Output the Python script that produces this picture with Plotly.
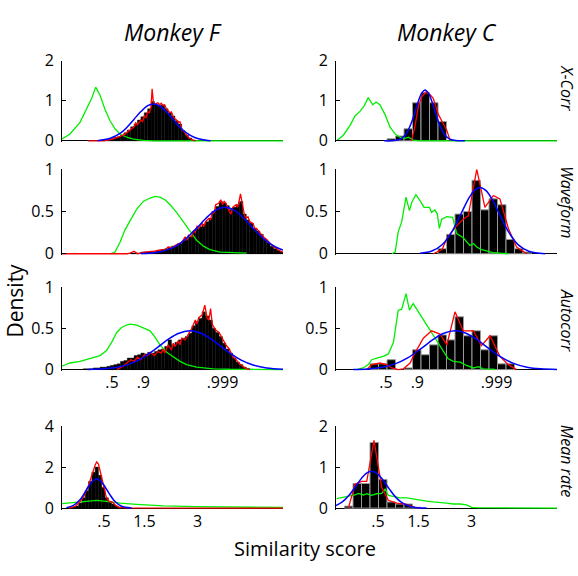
import numpy as np
import plotly.graph_objects as go

# ---------------- axis / tick data ----------------
CORR_RANGE = [-0.92, 5.58]            # Fisher-z (arctanh r) scale
corr_tick_r = [0.5, 0.9, 0.999]
corr_tick_labels = [".5", ".9", ".999"]
RATE_RANGE = [0, 10]
rate_tick_pos = [1.9, 3.73, 6.13]
rate_tick_labels = [".5", "1.5", "3"]

col_titles = ["Monkey F", "Monkey C"]
row_labels = ["X-Corr", "Waveform", "Autocorr", "Mean rate"]
ymax_left = [2, 1, 1, 4]
ymax_right = [2, 1, 1, 2]
yticks_left = [[0, 1, 2], [0, 0.5, 1], [0, 0.5, 1], [0, 2, 4]]
yticks_right = [[0, 1, 2], [0, 0.5, 1], [0, 0.5, 1], [0, 1, 2]]

# ---------------- X-Corr, Monkey F ----------------
xcorrF_hist_start, xcorrF_hist_w = 0.30, 0.1
xcorrF_hist = [0.01, 0.03, 0.05, 0.08, 0.10, 0.14, 0.20, 0.27, 0.35, 0.42, 0.52, 0.60, 0.70, 0.80,
               0.98, 0.90, 0.88, 0.90, 0.80, 0.70, 0.62, 0.50, 0.42, 0.25, 0.14, 0.07, 0.02]
xcorrF_red_x = [-0.15, 0.3, 0.5, 0.7, 0.9, 1.0, 1.1, 1.2, 1.25, 1.3, 1.4, 1.45, 1.5, 1.55, 1.6, 1.65, 1.7,
                1.73, 1.77, 1.82, 1.9, 1.95, 2.0, 2.05, 2.1, 2.15, 2.2, 2.25, 2.3, 2.35, 2.4, 2.45, 2.5,
                2.55, 2.6, 2.7, 2.8, 2.9, 3.0]
xcorrF_red_y = [0, 0.0, 0.03, 0.08, 0.15, 0.22, 0.30, 0.35, 0.45, 0.40, 0.52, 0.48, 0.62, 0.58, 0.72, 0.70,
                0.85, 1.30, 0.95, 0.92, 0.95, 0.90, 0.94, 0.88, 0.90, 0.80, 0.75, 0.70, 0.72, 0.60, 0.55,
                0.52, 0.46, 0.48, 0.30, 0.20, 0.08, 0.03, 0.0]
xcorrF_blue_x = [0.13, 0.2, 0.5, 0.8, 1.0, 1.2, 1.4, 1.6, 1.77, 1.95, 2.15, 2.35, 2.55, 2.75, 3.0, 3.3, 3.45]
xcorrF_blue_y = [0.0, 0.016, 0.064, 0.19, 0.345, 0.54, 0.73, 0.88, 0.92, 0.87, 0.725, 0.53, 0.34, 0.19,
                 0.075, 0.02, 0.0]
xcorrF_green_x = [-0.93, -0.685, -0.39, -0.194, -0.047, 0.07, 0.198, 0.345, 0.492, 0.639, 0.786, 0.982,
                  1.178, 1.472, 1.77, 5.58]
xcorrF_green_y = [0.04, 0.17, 0.46, 0.78, 1.06, 1.34, 1.14, 0.78, 0.50, 0.30, 0.17, 0.09, 0.04, 0.01, 0.0, 0.0]

# ---------------- X-Corr, Monkey C ----------------
binsC_start, binsC_w = -0.92, 0.25
xcorrC_hist = [0, 0, 0, 0, 0, 0, 0.05, 0.12, 0.30, 0.95, 1.20, 0.95, 0.48, 0, 0, 0, 0, 0, 0, 0, 0, 0, 0, 0, 0, 0]
xcorrC_red_x = [1.3, 1.4, 1.5, 1.6, 1.73, 1.85, 1.94, 2.09, 2.22, 2.34, 2.44]
xcorrC_red_y = [0, 0.35, 0.85, 1.10, 1.22, 1.15, 1.06, 0.66, 0.45, 0.26, 0]
xcorrC_blue_x = [0.5, 0.8, 1.0, 1.15, 1.3, 1.4, 1.5, 1.6, 1.7, 1.8, 1.9, 2.0, 2.1, 2.25, 2.4, 2.6, 2.87]
xcorrC_blue_y = [0, 0.007, 0.056, 0.184, 0.458, 0.715, 0.984, 1.19, 1.27, 1.19, 0.984, 0.715, 0.458, 0.184,
                 0.056, 0.007, 0]
xcorrC_green_x = [-0.90, -0.705, -0.51, -0.36, -0.21, -0.10, 0.03, 0.16, 0.26, 0.37, 0.52, 0.67, 0.82, 0.96,
                  1.11, 1.21, 1.35, 1.55, 5.58]
xcorrC_green_y = [0, 0.14, 0.38, 0.62, 0.74, 0.86, 1.08, 0.90, 0.97, 0.90, 0.66, 0.34, 0.17, 0.09, 0.06,
                  0.09, 0.02, 0, 0]

# ---------------- Waveform, Monkey F ----------------
waveF_hist_start, waveF_hist_w = 1.10, 0.1
waveF_hist = [0.01, 0.01, 0.01, 0.02, 0.02, 0.02, 0.03, 0.03, 0.04, 0.05, 0.06, 0.08, 0.09, 0.10, 0.12,
              0.15, 0.17, 0.20, 0.26, 0.30, 0.32, 0.35, 0.38, 0.42, 0.50, 0.56, 0.62, 0.60, 0.57, 0.52,
              0.55, 0.58, 0.62, 0.47, 0.40, 0.36, 0.30, 0.27, 0.23, 0.17, 0.13, 0.09, 0.06, 0.04, 0.02]
waveF_red_x = [-0.92, 1.0, 1.1, 1.2, 1.3, 1.5, 1.8, 2.0, 2.1, 2.2, 2.3, 2.4, 2.5, 2.6, 2.7, 2.75, 2.8, 2.9,
               2.95, 3.0, 3.05, 3.1, 3.2, 3.25, 3.3, 3.4, 3.45, 3.5, 3.55, 3.6, 3.7, 3.75, 3.8, 3.85, 3.9,
               4.0, 4.05, 4.1, 4.2, 4.25, 4.3, 4.33, 4.38, 4.45, 4.5, 4.55, 4.6, 4.7, 4.75, 4.8, 4.9, 5.0,
               5.1, 5.2, 5.3, 5.4, 5.5, 5.58]
waveF_red_y = [0, 0, 0.01, 0.03, 0.0, 0.02, 0.03, 0.05, 0.04, 0.08, 0.07, 0.10, 0.12, 0.13, 0.20, 0.16,
               0.22, 0.20, 0.28, 0.25, 0.33, 0.30, 0.36, 0.32, 0.38, 0.42, 0.40, 0.50, 0.48, 0.58, 0.60,
               0.64, 0.58, 0.62, 0.60, 0.50, 0.47, 0.55, 0.58, 0.55, 0.65, 0.71, 0.60, 0.45, 0.42, 0.44,
               0.38, 0.36, 0.30, 0.30, 0.25, 0.20, 0.17, 0.12, 0.08, 0.06, 0.03, 0.02]
waveF_blue_x = [1.4, 1.8, 2.2, 2.6, 3.0, 3.3, 3.6, 3.87, 4.15, 4.45, 4.75, 5.05, 5.35, 5.58]
waveF_blue_y = [0.003, 0.013, 0.049, 0.136, 0.286, 0.415, 0.517, 0.55, 0.514, 0.411, 0.281, 0.165, 0.083, 0.044]
waveF_green_x = [0.49, 0.64, 0.79, 0.93, 1.08, 1.28, 1.47, 1.67, 1.82, 1.96, 2.11, 2.26, 2.45, 2.65, 2.84,
                 3.04, 3.24, 3.43, 3.73, 4.02, 4.51]
waveF_green_y = [0, 0.02, 0.14, 0.28, 0.39, 0.53, 0.62, 0.66, 0.68, 0.67, 0.64, 0.58, 0.49, 0.375, 0.26,
                 0.16, 0.09, 0.05, 0.02, 0.016, 0.008]

# ---------------- Waveform, Monkey C ----------------
waveC_hist = [0, 0, 0, 0, 0, 0, 0, 0, 0, 0, 0, 0, 0.06, 0.23, 0.47, 0.50, 0.87, 0.52, 0.65, 0.58, 0.17,
              0.06, 0.02, 0, 0, 0]
waveC_red_x = [1.94, 2.2, 2.34, 2.58, 2.82, 2.97, 3.22, 3.46, 3.71, 3.90, 4.15, 4.39, 4.69]
waveC_red_y = [0, 0.05, 0.18, 0.31, 0.41, 0.45, 1.0, 0.55, 0.69, 0.65, 0.30, 0.08, 0]
waveC_blue_x = [1.55, 1.9, 2.2, 2.5, 2.75, 3.0, 3.15, 3.32, 3.5, 3.7, 3.9, 4.15, 4.45, 4.75, 5.23]
waveC_blue_y = [0.005, 0.032, 0.106, 0.269, 0.468, 0.667, 0.75, 0.785, 0.745, 0.623, 0.459, 0.262, 0.102,
                0.03, 0]
waveC_green_x = [0.72, 0.82, 0.91, 1.01, 1.14, 1.24, 1.31, 1.43, 1.55, 1.67, 1.83, 1.89, 1.99, 2.06, 2.12,
                 2.19, 2.34, 2.51, 2.63, 2.82, 3.02, 3.12, 3.22, 3.36, 3.51, 3.71, 3.90, 4.15]
waveC_green_y = [0, 0.02, 0.26, 0.375, 0.67, 0.51, 0.61, 0.70, 0.63, 0.55, 0.55, 0.49, 0.52, 0.47, 0.30,
                 0.41, 0.44, 0.43, 0.24, 0.19, 0.10, 0.12, 0.08, 0.05, 0.035, 0.012, 0.008, 0]

# ---------------- Autocorr, Monkey F ----------------
autoF_hist_start, autoF_hist_w = -0.40, 0.1
autoF_hist = [0.0, 0.01, 0.01, 0.01, 0.02, 0.02, 0.03, 0.03, 0.04, 0.05, 0.06, 0.07, 0.10, 0.11, 0.14, 0.14,
              0.17, 0.18, 0.20, 0.19, 0.21, 0.20, 0.22, 0.24, 0.25, 0.28, 0.36, 0.30, 0.33, 0.36, 0.38,
              0.40, 0.44, 0.53, 0.58, 0.62, 0.70, 0.65, 0.60, 0.50, 0.45, 0.40, 0.32, 0.25, 0.20, 0.14,
              0.09, 0.06, 0.03, 0.015, 0.005]
autoF_red_x = [0.7, 0.9, 1.1, 1.2, 1.3, 1.4, 1.5, 1.6, 1.7, 1.8, 1.9, 2.0, 2.05, 2.1, 2.2, 2.3, 2.35, 2.4,
               2.5, 2.55, 2.6, 2.7, 2.8, 2.9, 3.0, 3.05, 3.1, 3.2, 3.28, 3.35, 3.4, 3.45, 3.5, 3.6, 3.7,
               3.8, 3.9, 4.0, 4.1, 4.2, 4.3, 4.4, 4.5, 4.6]
autoF_red_y = [0, 0.05, 0.12, 0.10, 0.15, 0.12, 0.18, 0.17, 0.20, 0.17, 0.22, 0.20, 0.25, 0.20, 0.30, 0.24,
               0.32, 0.28, 0.35, 0.30, 0.38, 0.36, 0.43, 0.50, 0.60, 0.55, 0.63, 0.66, 0.78, 0.62, 0.60,
               0.74, 0.55, 0.48, 0.45, 0.38, 0.30, 0.25, 0.16, 0.12, 0.07, 0.04, 0.01, 0]
autoF_blue_x = [-0.16, 0.3, 0.7, 1.1, 1.5, 1.9, 2.2, 2.5, 2.84, 3.15, 3.45, 3.75, 4.05, 4.35, 4.7, 5.1, 5.58]
autoF_blue_y = [0.002, 0.009, 0.028, 0.072, 0.155, 0.272, 0.365, 0.438, 0.47, 0.443, 0.374, 0.282, 0.19,
                0.115, 0.056, 0.02, 0.005]
autoF_green_x = [-0.93, -0.69, -0.39, -0.10, 0.20, 0.39, 0.54, 0.69, 0.83, 0.98, 1.08, 1.28, 1.47, 1.67,
                 1.82, 1.96, 2.16, 2.35, 2.55, 2.75, 3.04, 3.53, 4.02, 5.58]
autoF_green_y = [0.04, 0.08, 0.10, 0.13, 0.17, 0.23, 0.33, 0.45, 0.51, 0.54, 0.55, 0.54, 0.51, 0.47, 0.39,
                 0.30, 0.21, 0.16, 0.10, 0.06, 0.03, 0.01, 0.004, 0]

# ---------------- Autocorr, Monkey C ----------------
autoC_hist = [0, 0, 0, 0, 0.07, 0.07, 0.12, 0, 0.02, 0.24, 0.18, 0.30, 0.42, 0.36, 0.64, 0.41, 0.47, 0.24,
              0.41, 0.07, 0.07, 0, 0, 0, 0, 0]
autoC_red_x = [-0.02, 0.13, 0.37, 0.57, 0.72, 0.91, 1.06, 1.26, 1.40, 1.65, 1.89, 2.14, 2.34, 2.58, 2.82,
               3.12, 3.36, 3.61, 3.90, 4.15, 4.39]
autoC_red_y = [0, 0.06, 0.08, 0.06, 0.02, 0, 0.01, 0.08, 0.20, 0.38, 0.47, 0.43, 0.30, 0.70, 0.47, 0.47,
               0.29, 0.41, 0.16, 0.06, 0]
autoC_blue_x = [-0.41, 0.0, 0.4, 0.8, 1.2, 1.6, 1.95, 2.25, 2.58, 2.9, 3.2, 3.55, 3.9, 4.3, 4.7, 5.1, 5.58]
autoC_blue_y = [0.002, 0.008, 0.025, 0.066, 0.145, 0.26, 0.368, 0.44, 0.47, 0.441, 0.371, 0.263, 0.16,
                0.076, 0.029, 0.009, 0.002]
autoC_green_x = [-0.31, -0.12, 0.03, 0.13, 0.28, 0.47, 0.62, 0.77, 0.91, 1.01, 1.14, 1.24, 1.35, 1.50, 1.65,
                 1.80, 1.94, 2.09, 2.24, 2.38, 2.53, 2.73, 2.92, 3.12, 3.27, 3.41, 3.71, 3.76]
autoC_green_y = [0, 0.02, 0.06, 0.12, 0.14, 0.16, 0.19, 0.33, 0.72, 0.73, 0.92, 0.72, 0.80, 0.70, 0.60,
                 0.50, 0.41, 0.31, 0.21, 0.13, 0.10, 0.09, 0.05, 0.02, 0.035, 0.01, 0.005, 0]

# ---------------- Mean rate, Monkey F ----------------
rateF_hist_start, rateF_hist_w = 0.30, 0.15
rateF_hist = [0.02, 0.05, 0.10, 0.25, 0.50, 0.85, 1.30, 1.75, 2.00, 1.60, 1.00, 0.50, 0.30, 0.20, 0.10,
              0.05, 0.02]
rateF_red_x = [0.3, 0.6, 0.8, 1.0, 1.2, 1.4, 1.5, 1.57, 1.65, 1.75, 1.9, 2.0, 2.1, 2.2, 2.3, 2.4, 2.55, 2.7,
               3.0, 10]
rateF_red_y = [0, 0.08, 0.30, 0.60, 1.10, 1.80, 2.10, 2.25, 2.15, 1.70, 1.00, 0.55, 0.35, 0.30, 0.28, 0.15,
               0.05, 0.03, 0.01, 0]
rateF_blue_x = [0.2, 0.5, 0.8, 1.0, 1.2, 1.4, 1.57, 1.75, 1.95, 2.15, 2.4, 2.7, 3.15]
rateF_blue_y = [0.024, 0.118, 0.392, 0.702, 1.055, 1.334, 1.42, 1.324, 1.038, 0.684, 0.319, 0.089, 0.006]
rateF_green_x = [0, 0.51, 1.12, 1.57, 2.02, 2.63, 3.38, 4.59, 6.09, 7.6, 10]
rateF_green_y = [0.22, 0.28, 0.36, 0.38, 0.33, 0.24, 0.18, 0.11, 0.07, 0.05, 0.03]

# ---------------- Mean rate, Monkey C ----------------
rateC_bin_w = 10 / 26
rateC_hist = [0, 0.05, 0.60, 0.60, 1.60, 0.70, 0.15, 0.10, 0.10, 0.02, 0, 0, 0, 0, 0, 0, 0, 0, 0, 0, 0, 0,
              0, 0, 0, 0]
rateC_red_x = [0.56, 0.86, 1.16, 1.39, 1.72, 2.07, 2.37, 2.75, 3.2, 3.57, 3.8]
rateC_red_y = [0, 0.58, 0.65, 0.65, 1.65, 0.50, 0.19, 0.12, 0.09, 0.02, 0]
rateC_blue_x = [0, 0.3, 0.6, 0.9, 1.15, 1.4, 1.61, 1.85, 2.1, 2.4, 2.7, 3.0, 3.4, 4.1]
rateC_blue_y = [0.064, 0.156, 0.318, 0.538, 0.725, 0.86, 0.90, 0.849, 0.705, 0.476, 0.268, 0.125, 0.034, 0.0]
rateC_green_x = [0.03, 0.33, 0.63, 0.86, 1.01, 1.24, 1.39, 1.61, 1.84, 2.07, 2.22, 2.37, 2.59, 2.9, 3.2, 3.5,
                 3.8, 4.1, 4.4, 4.71, 5.01, 5.31, 5.61, 5.91, 6.14, 6.37, 10]
rateC_green_y = [0.23, 0.27, 0.30, 0.32, 0.36, 0.32, 0.35, 0.31, 0.35, 0.36, 0.46, 0.31, 0.28, 0.25, 0.25,
                 0.22, 0.19, 0.17, 0.15, 0.14, 0.12, 0.10, 0.10, 0.08, 0.02, 0.01, 0]

# ---------------- figure ----------------
W, H = 578, 576
FONT = "Open Sans"
RED, BLUE, GREEN = "#ff0000", "#0000ff", "#00ee00"
col_px = {0: (62, 283), 1: (336, 557)}
row_px = [(134.5, 51.5), (251.5, 164), (371.5, 286), (515, 430)]


def px_x(p):
    return p / W


def px_y(p):
    return 1 - p / H


def centers(start, w, n):
    return start + w * (np.arange(n) + 0.5)


fig = go.Figure()

panels = [
    (0, 0, centers(xcorrF_hist_start, xcorrF_hist_w, len(xcorrF_hist)), xcorrF_hist, xcorrF_hist_w, True,
     (xcorrF_red_x, xcorrF_red_y), (xcorrF_blue_x, xcorrF_blue_y), (xcorrF_green_x, xcorrF_green_y)),
    (0, 1, centers(binsC_start, binsC_w, len(xcorrC_hist)), xcorrC_hist, binsC_w, False,
     (xcorrC_red_x, xcorrC_red_y), (xcorrC_blue_x, xcorrC_blue_y), (xcorrC_green_x, xcorrC_green_y)),
    (1, 0, centers(waveF_hist_start, waveF_hist_w, len(waveF_hist)), waveF_hist, waveF_hist_w, True,
     (waveF_red_x, waveF_red_y), (waveF_blue_x, waveF_blue_y), (waveF_green_x, waveF_green_y)),
    (1, 1, centers(binsC_start, binsC_w, len(waveC_hist)), waveC_hist, binsC_w, False,
     (waveC_red_x, waveC_red_y), (waveC_blue_x, waveC_blue_y), (waveC_green_x, waveC_green_y)),
    (2, 0, centers(autoF_hist_start, autoF_hist_w, len(autoF_hist)), autoF_hist, autoF_hist_w, True,
     (autoF_red_x, autoF_red_y), (autoF_blue_x, autoF_blue_y), (autoF_green_x, autoF_green_y)),
    (2, 1, centers(binsC_start, binsC_w, len(autoC_hist)), autoC_hist, binsC_w, False,
     (autoC_red_x, autoC_red_y), (autoC_blue_x, autoC_blue_y), (autoC_green_x, autoC_green_y)),
    (3, 0, centers(rateF_hist_start, rateF_hist_w, len(rateF_hist)), rateF_hist, rateF_hist_w, True,
     (rateF_red_x, rateF_red_y), (rateF_blue_x, rateF_blue_y), (rateF_green_x, rateF_green_y)),
    (3, 1, centers(RATE_RANGE[0], rateC_bin_w, len(rateC_hist)), rateC_hist, rateC_bin_w, False,
     (rateC_red_x, rateC_red_y), (rateC_blue_x, rateC_blue_y), (rateC_green_x, rateC_green_y)),
]

layout_axes = {}
for idx, (r, c, hx, hy, hw, fine, red, blue, green) in enumerate(panels, start=1):
    xa, ya = f"x{idx}", f"y{idx}"
    fig.add_trace(go.Scatter(x=green[0], y=green[1], mode="lines", line=dict(color=GREEN, width=1.3),
                             xaxis=xa, yaxis=ya, hoverinfo="skip"))
    hx = np.asarray(hx)
    hy = np.asarray(hy, dtype=float)
    keep = hy > 0
    if fine:
        mk = dict(color="black", line=dict(color="black", width=0.4))
    else:
        mk = dict(color="black", line=dict(color="#9a9a9a", width=1))
    fig.add_trace(go.Bar(x=hx[keep], y=hy[keep], width=hw, marker=mk, xaxis=xa, yaxis=ya, hoverinfo="skip"))
    fig.add_trace(go.Scatter(x=red[0], y=red[1], mode="lines", line=dict(color=RED, width=1.3),
                             xaxis=xa, yaxis=ya, hoverinfo="skip"))
    fig.add_trace(go.Scatter(x=blue[0], y=blue[1], mode="lines", line=dict(color=BLUE, width=1.5, shape="spline"),
                             xaxis=xa, yaxis=ya, hoverinfo="skip"))

    x0, x1 = col_px[c]
    zero_px, top_px = row_px[r]
    ymax = (ymax_left if c == 0 else ymax_right)[r]
    yt = (yticks_left if c == 0 else yticks_right)[r]
    pad_px = 1.5
    pad = ymax * pad_px / (zero_px - top_px)
    ydom = [px_y(zero_px + pad_px), px_y(top_px)]
    xdom = [px_x(x0), px_x(x1)]
    if r < 3:
        xr = CORR_RANGE
        tv = list(np.arctanh(corr_tick_r))
        tt = corr_tick_labels
    else:
        xr = RATE_RANGE
        tv = rate_tick_pos
        tt = rate_tick_labels
    sfx = "" if idx == 1 else str(idx)
    layout_axes["xaxis" + sfx] = dict(
        domain=xdom, range=xr, anchor=ya, showline=False, showgrid=False, zeroline=False,
        ticks="", tickvals=tv, ticktext=tt, showticklabels=(r >= 2),
        tickfont=dict(family=FONT, size=16, color="black"), fixedrange=True)
    layout_axes["yaxis" + sfx] = dict(
        domain=ydom, range=[-pad, ymax], anchor=xa, showline=True, linecolor="black", linewidth=1,
        ticks="inside", ticklen=4, tickcolor="black", tickwidth=1,
        tickvals=yt, ticktext=[("%g" % v) for v in yt], ticklabelstandoff=4,
        tickfont=dict(family=FONT, size=16, color="black"),
        showgrid=False, zeroline=True, zerolinecolor="black", zerolinewidth=1, fixedrange=True)

annotations = []
for c, title in enumerate(col_titles):
    x0, x1 = col_px[c]
    annotations.append(dict(text=f"<i>{title}</i>", x=px_x((x0 + x1) / 2), y=px_y(22), xref="paper",
                            yref="paper", showarrow=False, xanchor="center", yanchor="middle",
                            font=dict(family=FONT, size=23, color="black")))
label_y = [80, 198, 320, 466]
for r, lab in enumerate(row_labels):
    annotations.append(dict(text=f"<i>{lab}</i>", x=px_x(567), y=px_y(label_y[r]), xref="paper", yref="paper",
                            showarrow=False, textangle=90, xanchor="center", yanchor="middle",
                            font=dict(family=FONT, size=16, color="black")))
annotations.append(dict(text="Density", x=px_x(15), y=px_y(300), xref="paper", yref="paper", showarrow=False,
                        textangle=-90, xanchor="center", yanchor="middle",
                        font=dict(family=FONT, size=21, color="black")))
annotations.append(dict(text="Similarity score", x=px_x(305), y=px_y(557), xref="paper", yref="paper",
                        showarrow=False, xanchor="center", yanchor="middle",
                        font=dict(family=FONT, size=20, color="black")))

fig.update_layout(width=W, height=H, margin=dict(l=0, r=0, t=0, b=0), paper_bgcolor="white",
                  plot_bgcolor="white", showlegend=False, bargap=0, annotations=annotations, **layout_axes)
fig.write_html("out.html", config={"displayModeBar": False, "staticPlot": True},
               post_script="document.body.style.margin='0px';")
